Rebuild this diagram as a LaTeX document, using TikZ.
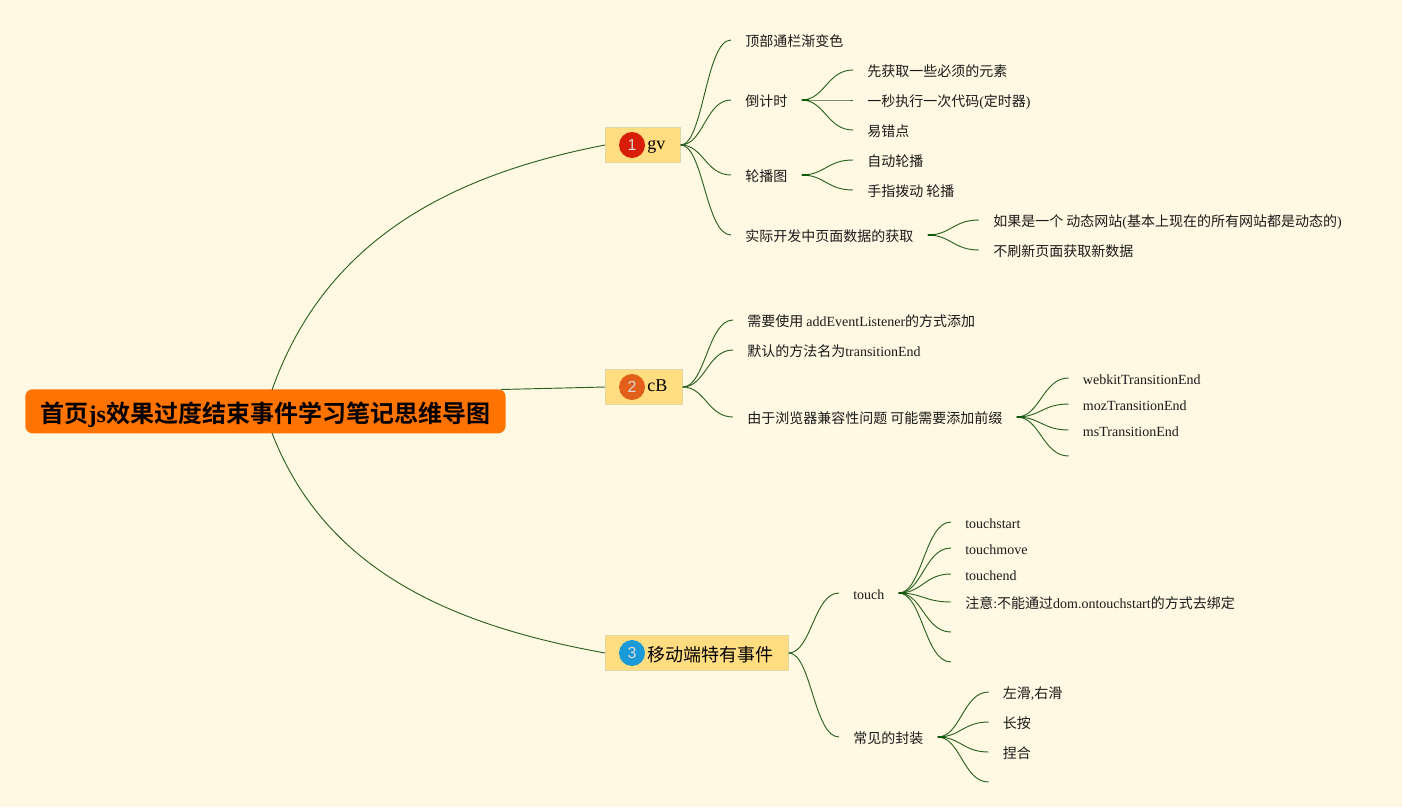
\documentclass[tikz,border=0pt]{standalone}
\usepackage{fontspec}
\setmainfont{Liberation Serif}
\setsansfont{Liberation Sans}
\newfontfamily\cjk{Noto Sans CJK SC}
\newfontfamily\cjkbf{Noto Sans CJK SC Bold}
\newcommand{\zh}[1]{{\cjk #1}}
\newcommand{\tp}[2]{\hspace*{31.5pt}\raisebox{-#1}[0pt][0pt]{#2}\hspace*{11.25pt}}
\usetikzlibrary{calc}
\definecolor{bgc}{HTML}{FFF8E2}
\definecolor{rootc}{HTML}{FF7300}
\definecolor{topicc}{HTML}{FFDD80}
\definecolor{topicb}{HTML}{E3D6A6}
\definecolor{linec}{HTML}{2A6222}
\definecolor{stubc}{HTML}{0F5A0A}
\definecolor{txt}{HTML}{1A1A1A}
\definecolor{mone}{HTML}{D81E06}
\definecolor{mtwo}{HTML}{E2601A}
\definecolor{mthree}{HTML}{1B9AD8}
\tikzset{
  rootbox/.style={fill=rootc,rounded corners=5.5pt,inner xsep=11.6pt,inner ysep=5.2pt,text height=19.5pt,text depth=3pt,minimum height=33pt,font=\fontsize{18}{20}\selectfont\cjkbf,text=black},
  topic/.style={fill=topicc,draw=topicb,line width=.5pt,inner xsep=0pt,inner ysep=0pt,minimum height=26.6pt,font=\fontsize{13.5}{16}\selectfont,text=black},
  leaf/.style={inner xsep=10.5pt,inner ysep=0pt,text height=10.5pt,text depth=1.5pt,font=\fontsize{10.5}{12}\selectfont,text=txt},
  marker/.style={circle,inner sep=0pt,minimum size=19.5pt,text=white!85!black,font=\fontsize{12}{14}\selectfont\sffamily},
  conn/.style={draw=linec,line width=.7pt},
  stub/.style={draw=stubc,line width=1.2pt},
  sb/.style={to path={let \p1=(\tikztostart),\p2=(\tikztotarget) in .. controls ($(\p1)!.45!(\x2,\y1)$) and ($(\p1)!.5!(\x2,\y1)+(0,\y2-\y1)$) .. (\p2)}}
}
\begin{document}
\begin{tikzpicture}[x=.75pt,y=-.75pt]
\useasboundingbox (0,0) rectangle (1402,807);
\fill[bgc] (0,0) rectangle (1402,807);
% root and topics
\node[rootbox,anchor=north west] (root) at (25,389) {首页{\rmfamily\bfseries js}效果过度结束事件学习笔记思维导图};
\node[topic,anchor=west] (t1) at (605,145) {\tp{3pt}{gv}};
\node[topic,anchor=west] (t2) at (605,387) {\tp{3pt}{cB}};
\node[topic,anchor=west] (t3) at (605,653) {\tp{6pt}{\zh{移动端特有事件}}};
\node[marker,fill=mone] (m1) at (632,145) {1};
\node[marker,fill=mtwo] (m2) at (632,387) {2};
\node[marker,fill=mthree] (m3) at (632,653) {3};
% root connectors
\coordinate (ra) at (272,390);
\coordinate (rb) at (272,433);
\coordinate (rc) at (501,389.5);
\draw[conn] (ra) .. controls (325,240) and (450,175) .. (t1.west);
\draw[conn] (rc) -- (t2.west);
\draw[conn] (rb) .. controls (325,570) and (450,625) .. (t3.west);
% topic 1
\node[leaf,anchor=west] (a1) at (731,40) {\zh{顶部通栏渐变色}};
\node[leaf,anchor=west] (a2) at (731,100) {\zh{倒计时}};
\node[leaf,anchor=west] (a3) at (731,175) {\zh{轮播图}};
\node[leaf,anchor=west] (a4) at (731,235) {\zh{实际开发中页面数据的获取}};
\foreach \v in {a1,a2,a3,a4} \draw[conn] (t1.east) to[sb] (\v.west);
\node[leaf,anchor=west] (b1) at (853,70) {\zh{先获取一些必须的元素}};
\node[leaf,anchor=west] (b2) at (853,100) {\zh{一秒执行一次代码}(\zh{定时器})};
\node[leaf,anchor=west] (b3) at (853,130) {\zh{易错点}};
\coordinate (ja2) at ($(a2.east)+(7,0)$);
\foreach \v in {b1,b2,b3} \draw[conn] (a2.east) to[sb] (\v.west);
\draw[stub] (a2.east) -- (ja2);
\node[leaf,anchor=west] (c1) at (853,160) {\zh{自动轮播}};
\node[leaf,anchor=west] (c2) at (853,190) {\zh{手指拨动 轮播}};
\coordinate (ja3) at ($(a3.east)+(7,0)$);
\foreach \v in {c1,c2} \draw[conn] (a3.east) to[sb] (\v.west);
\draw[stub] (a3.east) -- (ja3);
\node[leaf,anchor=west] (d1) at (979,220) {\zh{如果是一个 动态网站}(\zh{基本上现在的所有网站都是动态的})};
\node[leaf,anchor=west] (d2) at (979,250) {\zh{不刷新页面获取新数据}};
\coordinate (ja4) at ($(a4.east)+(7,0)$);
\foreach \v in {d1,d2} \draw[conn] (a4.east) to[sb] (\v.west);
\draw[stub] (a4.east) -- (ja4);
% topic 2
\node[leaf,anchor=west] (e1) at (733,320) {\zh{需要使用 }addEventListener\zh{的方式添加}};
\node[leaf,anchor=west] (e2) at (733,350) {\zh{默认的方法名为}transitionEnd};
\node[leaf,anchor=west] (e3) at (733,417) {\zh{由于浏览器兼容性问题 可能需要添加前缀}};
\foreach \v in {e1,e2,e3} \draw[conn] (t2.east) to[sb] (\v.west);
\node[leaf,anchor=west] (f1) at (1068.7,378) {webkitTransitionEnd};
\node[leaf,anchor=west] (f2) at (1068.7,404) {mozTransitionEnd};
\node[leaf,anchor=west] (f3) at (1068.7,430) {msTransitionEnd};
\coordinate (f4) at (1068.7,456);
\coordinate (je3) at ($(e3.east)+(7,0)$);
\foreach \v in {f1.west,f2.west,f3.west,f4} \draw[conn] (e3.east) to[sb] (\v);
\draw[stub] (e3.east) -- (je3);
% topic 3
\node[leaf,anchor=west] (g1) at (839,593) {touch};
\node[leaf,anchor=west] (g2) at (839,737) {\zh{常见的封装}};
\foreach \v in {g1,g2} \draw[conn] (t3.east) to[sb] (\v.west);
\node[leaf,anchor=west] (h1) at (951,522) {touchstart};
\node[leaf,anchor=west] (h2) at (951,548) {touchmove};
\node[leaf,anchor=west] (h3) at (951,574) {touchend};
\node[leaf,anchor=west] (h4) at (951,602) {\zh{注意}:\zh{不能通过}dom.ontouchstart\zh{的方式去绑定}};
\coordinate (h5) at (951,632);
\coordinate (h6) at (951,662);
\coordinate (jg1) at ($(g1.east)+(7,0)$);
\foreach \v in {h1.west,h2.west,h3.west,h4.west,h5,h6} \draw[conn] (g1.east) to[sb] (\v);
\draw[stub] (g1.east) -- (jg1);
\node[leaf,anchor=west] (k1) at (988.7,692) {\zh{左滑},\zh{右滑}};
\node[leaf,anchor=west] (k2) at (988.7,722) {\zh{长按}};
\node[leaf,anchor=west] (k3) at (988.7,752) {\zh{捏合}};
\coordinate (k4) at (988.7,782);
\coordinate (jg2) at ($(g2.east)+(7,0)$);
\foreach \v in {k1.west,k2.west,k3.west,k4} \draw[conn] (g2.east) to[sb] (\v);
\draw[stub] (g2.east) -- (jg2);
\end{tikzpicture}
\end{document}
